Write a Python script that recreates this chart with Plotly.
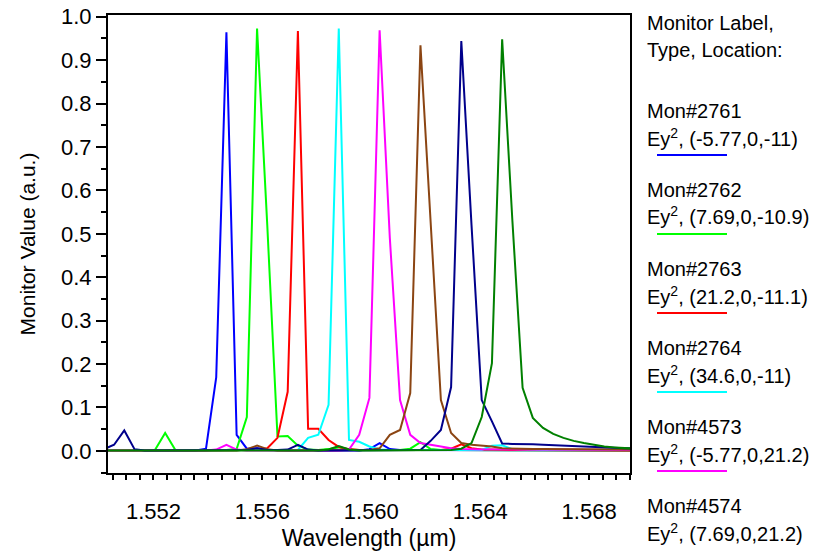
import plotly.graph_objects as go

# Sampled wavelengths (um), shared by every monitor
WAVELENGTH = [
    1.550178, 1.550553, 1.550928, 1.551303, 1.551679, 1.552054, 1.552429, 1.552804, 1.553179, 1.553554,
    1.553929, 1.554304, 1.554679, 1.555054, 1.555429, 1.555804, 1.556179, 1.556554, 1.556929, 1.557304,
    1.557679, 1.558054, 1.558430, 1.558805, 1.559180, 1.559555, 1.559930, 1.560305, 1.560680, 1.561055,
    1.561430, 1.561805, 1.562180, 1.562555, 1.562930, 1.563305, 1.563680, 1.564055, 1.564430, 1.564805,
    1.565181, 1.565556, 1.565931, 1.566306, 1.566681, 1.567056, 1.567431, 1.567806, 1.568181, 1.568556,
    1.568931, 1.569306, 1.569681,
]

MON_2761 = [
    0.001, 0.001, 0.001, 0.001, 0.001, 0.001, 0.001, 0.001, 0.001, 0.001,
    0.005, 0.169, 0.964, 0.037, 0.005, 0.006, 0.002, 0.001, 0.001, 0.001,
    0.001, 0.001, 0.001, 0.001, 0.001, 0.001, 0.004, 0.018, 0.004, 0.002,
    0.002, 0.002, 0.002, 0.002, 0.002, 0.002, 0.002, 0.002, 0.002, 0.001,
    0.001, 0.001, 0.001, 0.001, 0.001, 0.001, 0.001, 0.001, 0.001, 0.001,
    0.001, 0.001, 0.001,
]
MON_2762 = [
    0.001, 0.001, 0.001, 0.001, 0.001, 0.002, 0.041, 0.002, 0.001, 0.001,
    0.001, 0.001, 0.002, 0.004, 0.078, 0.973, 0.520, 0.033, 0.034, 0.012,
    0.003, 0.002, 0.004, 0.008, 0.003, 0.002, 0.002, 0.002, 0.002, 0.002,
    0.005, 0.020, 0.004, 0.002, 0.002, 0.002, 0.002, 0.002, 0.002, 0.002,
    0.002, 0.001, 0.001, 0.001, 0.001, 0.001, 0.001, 0.001, 0.001, 0.001,
    0.001, 0.001, 0.001,
]
MON_2763 = [
    0.001, 0.001, 0.001, 0.001, 0.001, 0.001, 0.001, 0.001, 0.001, 0.001,
    0.001, 0.001, 0.001, 0.001, 0.001, 0.002, 0.006, 0.030, 0.136, 0.967,
    0.051, 0.051, 0.025, 0.009, 0.004, 0.002, 0.002, 0.002, 0.002, 0.002,
    0.002, 0.002, 0.002, 0.002, 0.005, 0.015, 0.006, 0.003, 0.003, 0.002,
    0.002, 0.002, 0.002, 0.002, 0.002, 0.002, 0.002, 0.002, 0.002, 0.002,
    0.001, 0.001, 0.001,
]
MON_2764 = [
    0.001, 0.001, 0.001, 0.001, 0.001, 0.001, 0.001, 0.001, 0.001, 0.001,
    0.001, 0.001, 0.001, 0.001, 0.001, 0.001, 0.001, 0.001, 0.001, 0.002,
    0.030, 0.037, 0.106, 0.973, 0.025, 0.021, 0.010, 0.003, 0.002, 0.002,
    0.002, 0.002, 0.002, 0.002, 0.002, 0.002, 0.002, 0.002, 0.012, 0.013,
    0.004, 0.003, 0.002, 0.002, 0.002, 0.002, 0.002, 0.002, 0.002, 0.002,
    0.002, 0.002, 0.002,
]
MON_4573 = [
    0.001, 0.001, 0.001, 0.001, 0.001, 0.001, 0.001, 0.001, 0.001, 0.001,
    0.001, 0.003, 0.014, 0.003, 0.001, 0.001, 0.001, 0.001, 0.001, 0.001,
    0.001, 0.001, 0.001, 0.001, 0.003, 0.037, 0.122, 0.969, 0.490, 0.117,
    0.037, 0.018, 0.014, 0.010, 0.006, 0.004, 0.003, 0.003, 0.003, 0.003,
    0.003, 0.003, 0.003, 0.003, 0.003, 0.002, 0.002, 0.002, 0.002, 0.002,
    0.002, 0.002, 0.002,
]
MON_4574 = [
    0.001, 0.001, 0.001, 0.001, 0.001, 0.001, 0.001, 0.001, 0.001, 0.001,
    0.001, 0.001, 0.001, 0.001, 0.004, 0.012, 0.004, 0.001, 0.001, 0.001,
    0.001, 0.001, 0.001, 0.001, 0.001, 0.001, 0.002, 0.006, 0.037, 0.048,
    0.133, 0.934, 0.520, 0.117, 0.041, 0.018, 0.014, 0.012, 0.010, 0.006,
    0.005, 0.004, 0.004, 0.004, 0.004, 0.004, 0.003, 0.003, 0.003, 0.003,
    0.003, 0.003, 0.003,
]
MON_4575 = [
    0.004, 0.014, 0.047, 0.004, 0.001, 0.001, 0.001, 0.001, 0.001, 0.001,
    0.001, 0.001, 0.002, 0.002, 0.002, 0.006, 0.002, 0.002, 0.003, 0.014,
    0.003, 0.001, 0.001, 0.001, 0.001, 0.001, 0.001, 0.001, 0.001, 0.001,
    0.001, 0.002, 0.023, 0.048, 0.147, 0.944, 0.520, 0.117, 0.068, 0.017,
    0.016, 0.016, 0.015, 0.014, 0.013, 0.012, 0.010, 0.009, 0.008, 0.007,
    0.007, 0.006, 0.006,
]
MON_4576 = [
    0.001, 0.001, 0.001, 0.001, 0.001, 0.001, 0.001, 0.001, 0.001, 0.001,
    0.001, 0.001, 0.001, 0.001, 0.001, 0.001, 0.001, 0.001, 0.001, 0.001,
    0.001, 0.001, 0.003, 0.011, 0.003, 0.001, 0.001, 0.001, 0.001, 0.001,
    0.001, 0.001, 0.001, 0.001, 0.002, 0.005, 0.018, 0.078, 0.202, 0.948,
    0.530, 0.145, 0.076, 0.053, 0.039, 0.030, 0.023, 0.018, 0.014, 0.010,
    0.008, 0.006, 0.005,
]

MONITOR_NAMES = ["Mon#2761", "Mon#2762", "Mon#2763", "Mon#2764", "Mon#4573", "Mon#4574", "Mon#4575", "Mon#4576"]
MONITOR_LOCATIONS = ["(-5.77,0,-11)", "(7.69,0,-10.9)", "(21.2,0,-11.1)", "(34.6,0,-11)",
                     "(-5.77,0,21.2)", "(7.69,0,21.2)", "", ""]
SERIES = [MON_2761, MON_2762, MON_2763, MON_2764, MON_4573, MON_4574, MON_4575, MON_4576]
COLORS = ["#0000FF", "#00FF00", "#FF0000", "#00FFFF", "#FF00FF", "#8B4513", "#00008B", "#008000"]

FONT = "Liberation Sans, Arial, sans-serif"
W, H = 820, 551
PLOT_L, PLOT_R, PLOT_T, PLOT_B = 108, 630, 15, 473
X_RANGE = [1.55033, 1.5695]
Y_RANGE = [-0.051, 1.004]


def px_to_paper(x=None, y=None):
    """Convert a pixel position on the page to paper coordinates of the plot area."""
    out = []
    if x is not None:
        out.append((x - PLOT_L) / (PLOT_R - PLOT_L))
    if y is not None:
        out.append((PLOT_B - y) / (PLOT_B - PLOT_T))
    return out[0] if len(out) == 1 else out


fig = go.Figure()
for name, values, color in zip(MONITOR_NAMES, SERIES, COLORS):
    fig.add_trace(go.Scatter(
        x=WAVELENGTH, y=values, mode="lines", name=name,
        line={"color": color, "width": 2}, showlegend=False,
    ))

# Legend block drawn on the right, as in the original monitor window
annotations = [
    {"text": "Monitor Label,", "px": 645, "py": 23},
    {"text": "Type, Location:", "px": 645, "py": 50},
]
shapes = []
for i, (name, loc, color) in enumerate(zip(MONITOR_NAMES[:6], MONITOR_LOCATIONS, COLORS)):
    annotations.append({"text": name, "px": 645, "py": 111 + 79 * i})
    annotations.append({"text": f"Ey<sup>2</sup>, {loc}", "px": 645, "py": 137 + 79 * i})
    sy = 155 + 79 * i
    if sy < H - 2:
        x0, y0 = px_to_paper(657, sy)
        x1 = px_to_paper(x=727)
        shapes.append({"type": "line", "xref": "paper", "yref": "paper",
                       "x0": x0, "x1": x1, "y0": y0, "y1": y0,
                       "line": {"color": color, "width": 2}})

for a in annotations:
    ax, ay = px_to_paper(a["px"], a["py"])
    fig.add_annotation(
        text=a["text"], xref="paper", yref="paper", x=ax, y=ay,
        xanchor="left", yanchor="middle", showarrow=False,
        font={"family": FONT, "size": 20, "color": "black"},
    )

tick_style = {"ticks": "outside", "tickwidth": 1.5, "tickcolor": "black"}

fig.update_layout(
    width=W, height=H,
    margin={"l": PLOT_L, "r": W - PLOT_R, "t": PLOT_T, "b": H - PLOT_B},
    plot_bgcolor="white", paper_bgcolor="white",
    font={"family": FONT, "size": 21, "color": "black"},
    shapes=shapes,
    xaxis={
        "range": X_RANGE, "tick0": 1.552, "dtick": 0.004, "tickformat": ".3f",
        "ticklen": 5, **tick_style,
        "minor": {"dtick": 0.0005, "ticklen": 5, **tick_style},
        "showline": True, "linecolor": "black", "linewidth": 2, "mirror": True,
        "showgrid": False, "zeroline": False, "automargin": False,
        "tickfont": {"size": 22}, "ticklabelstandoff": 13,
        "title": {"text": "Wavelength (\u00b5m)", "font": {"size": 23}, "standoff": 14},
    },
    # second, label-free x axis only carries the longer ticks every 0.001 um
    xaxis2={
        "overlaying": "x", "anchor": "y", "side": "bottom", "range": X_RANGE,
        "tick0": 1.5505, "dtick": 0.001, "ticklen": 10, **tick_style,
        "showticklabels": False, "showline": False, "showgrid": False,
        "zeroline": False, "automargin": False,
    },
    yaxis={
        "range": Y_RANGE, "tick0": 0, "dtick": 0.1, "tickformat": ".1f",
        "ticklen": 10, **tick_style,
        "minor": {"dtick": 0.05, "ticklen": 5, **tick_style},
        "showline": True, "linecolor": "black", "linewidth": 2, "mirror": True,
        "showgrid": False, "zeroline": False, "automargin": False,
        "tickfont": {"size": 22},
        "title": {"text": "Monitor Value (a.u.)", "font": {"size": 21}, "standoff": 20},
    },
)

# The page body has a default 8px margin; remove it so the figure sits at the window origin
fig.write_html(
    "out.html",
    config={"displayModeBar": False},
    post_script="document.body.style.margin = '0';",
)
